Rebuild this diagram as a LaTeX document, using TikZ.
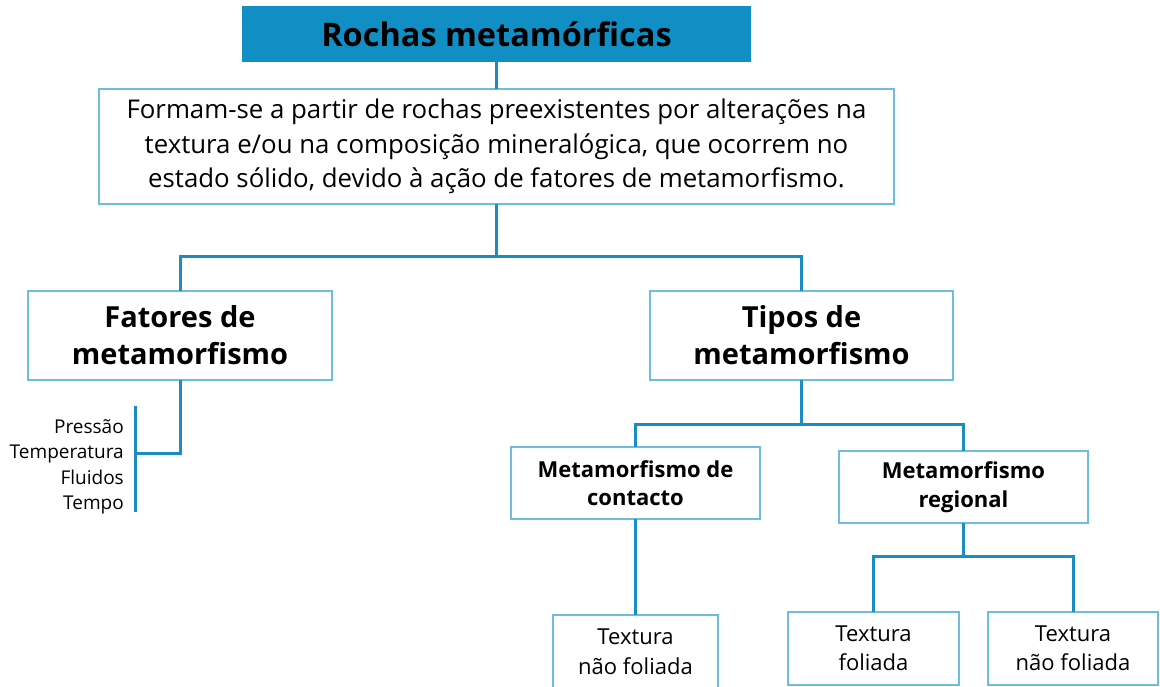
\documentclass[tikz,border=0pt]{standalone}
\usepackage{fontspec}
\setmainfont{Open Sans}
\definecolor{tfill}{HTML}{118FC4}
\definecolor{conncol}{HTML}{1A8EC3}
\definecolor{boxcol}{HTML}{6CBDE0}
\tikzset{
  box/.style={draw=boxcol, line width=1.4pt, fill=white, inner sep=0pt, outer sep=0pt, align=center, text=black},
  conn/.style={draw=conncol, line width=3pt},
  item/.style={anchor=base east, inner sep=0pt, font=\fontsize{19}{22}\selectfont}
}
\begin{document}
\begin{tikzpicture}[x=1pt,y=-1pt]
\useasboundingbox (0,0) rectangle (1160,686);
\fill[white] (0,0) rectangle (1160,686);
% title
\node[fill=tfill, inner sep=0pt, outer sep=0pt, minimum width=509pt, minimum height=56pt,
  font=\fontsize{32.5}{36}\selectfont\bfseries] (title) at (496.5,34) {Rochas metamórficas};
% description
\node[box, minimum width=795pt, minimum height=115pt, font=\fontsize{25.8}{34.5}\selectfont] (desc) at (496.5,146.5)
  {Formam-se a partir de rochas preexistentes por alterações na\\ textura e/ou na composição mineralógica, que ocorrem no\\ estado sólido, devido à ação de fatores de metamorfismo.};
% level 2
\node[box, minimum width=304pt, minimum height=89pt, font=\fontsize{29}{37}\selectfont\bfseries] (fat) at (180,335.5) {Fatores de\\metamorfismo};
\node[box, minimum width=303pt, minimum height=89pt, font=\fontsize{29}{37}\selectfont\bfseries] (tip) at (801.5,335.5) {Tipos de\\metamorfismo};
% level 3
\node[box, minimum width=249pt, minimum height=72pt, font=\fontsize{22}{28}\selectfont\bfseries] (cont) at (635.5,483) {Metamorfismo de\\contacto};
\node[box, minimum width=249pt, minimum height=72pt, font=\fontsize{22}{29}\selectfont\bfseries] (reg) at (963.5,487) {Metamorfismo\\regional};
% level 4
\node[box, minimum width=165pt, minimum height=73pt, font=\fontsize{22}{30}\selectfont] (tnf1) at (635.5,651.5) {Textura\\não foliada};
\node[box, minimum width=171pt, minimum height=73pt, font=\fontsize{22}{29}\selectfont] (tf) at (873.5,648.5) {Textura\\foliada};
\node[box, minimum width=170pt, minimum height=73pt, font=\fontsize{22}{29}\selectfont] (tnf2) at (1073,648.5) {Textura\\não foliada};
% list
\node[item] (p1) at (124,433) {Pressão};
\node[item] (p2) at (124,458) {Temperatura};
\node[item] (p3) at (124,484) {Fluidos};
\node[item] (p4) at (124,509) {Tempo};
% junction coordinates
\coordinate (j1) at (496.5,256);
\coordinate (j2) at (801.5,424);
\coordinate (j3) at (963.5,556);
\coordinate (brtop) at (135,406);
\coordinate (brbot) at (135,512);
\coordinate (brmid) at (135,453);
% connectors
\draw[conn] (title.south) -- (desc.north);
\draw[conn] (desc.south) -- (j1);
\draw[conn] (fat.north) |- (j1) -| (tip.north);
\draw[conn] (fat.south) |- (brmid);
\draw[conn] (brtop) -- (brbot);
\draw[conn] (tip.south) -- (j2);
\draw[conn] (cont.north) |- (j2) -| (reg.north);
\draw[conn] (cont.south) -- (tnf1.north);
\draw[conn] (reg.south) -- (j3);
\draw[conn] (tf.north) |- (j3) -| (tnf2.north);
\end{tikzpicture}
\end{document}
